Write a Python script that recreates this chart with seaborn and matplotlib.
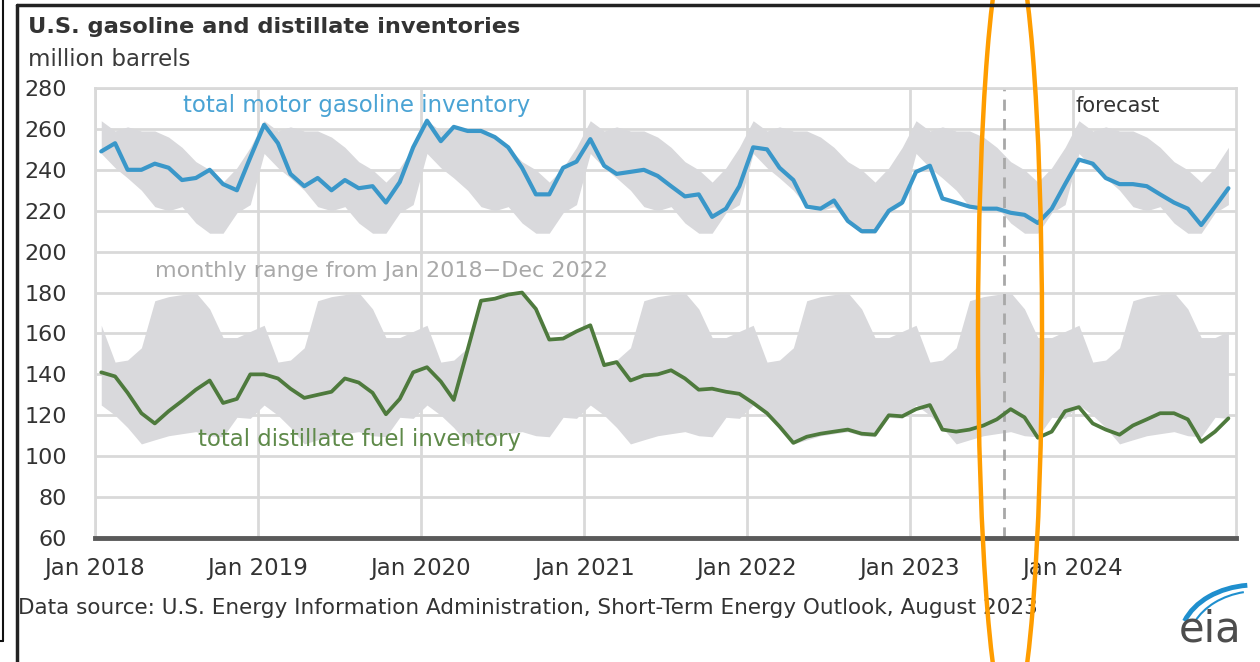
import numpy as np
import pandas as pd
import matplotlib
matplotlib.use("Agg")
import matplotlib.pyplot as plt
from matplotlib.patches import Ellipse, Arc
import seaborn as sns

# monthly values, Jan 2018 - Dec 2024 (million barrels)
gasoline = [
    249, 253, 240, 240, 243, 241, 235, 236, 240, 233, 230, 246,   # 2018
    262, 253, 238, 232, 236, 230, 235, 231, 232, 224, 234, 251,   # 2019
    264, 254, 261, 259, 259, 256, 251, 241, 228, 228, 241, 244,   # 2020
    255, 242, 238, 239, 240, 237, 232, 227, 228, 217, 221, 232,   # 2021
    251, 250, 241, 235, 222, 221, 225, 215, 210, 210, 220, 224,   # 2022
    239, 242, 226, 224, 222, 221, 221, 219, 218, 214, 221, 233,   # 2023
    245, 243, 236, 233, 233, 232, 228, 224, 221, 213, 222, 231,   # 2024
]
distillate = [
    141, 139, 131, 121, 116, 122, 127, 132.5, 137, 126, 128, 140,
    140, 138, 133, 128.5, 130, 131.5, 138, 136, 131, 120.5, 128, 141,
    143.5, 136.5, 127.5, 152, 176, 177, 179, 180, 172, 157, 157.5, 161,
    164, 144.5, 146, 137, 139.5, 140, 142, 138, 132.5, 133, 131.5, 130.5,
    126, 121, 114.5, 106.5, 109.5, 111, 112, 113, 111, 110.5, 120, 119.5,
    123, 125, 113, 112, 113, 115, 118, 123, 119, 109, 112, 122,
    124, 116, 113, 110.5, 115, 118, 121, 121, 118, 107, 112, 118.5,
]
# monthly range Jan 2018 - Dec 2022, by calendar month
gas_hi = [264, 259, 261, 259, 259, 256, 251, 244, 240, 234, 241, 251]
gas_lo = [248, 241, 236, 230, 222, 220, 222, 214, 209, 209, 219, 223]
dist_hi = [164, 146, 147, 153, 176, 178, 179, 180, 172, 158, 158, 161]
dist_lo = [125, 120, 114, 106, 108, 110, 111, 112, 110, 109.5, 119, 118.5]

tick_years = ['2018', '2019', '2020', '2021', '2022', '2023', '2024']
tick_labels = ['Jan ' + y for y in tick_years]

months = pd.date_range('2018-01-01', periods=len(gasoline), freq='MS') + pd.Timedelta(days=14)
df = pd.DataFrame({'date': months, 'gasoline': gasoline, 'distillate': distillate})
n_years = len(gasoline) // 12
df['gas_hi'] = np.tile(gas_hi, n_years)
df['gas_lo'] = np.tile(gas_lo, n_years)
df['dist_hi'] = np.tile(dist_hi, n_years)
df['dist_lo'] = np.tile(dist_lo, n_years)

sns.set_style('white')
plt.rcParams['font.family'] = ['DejaVu Sans']

W, H = 1260, 662
fig = plt.figure(figsize=(W / 100, H / 100), dpi=100)
ax = fig.add_axes([95 / W, 1 - 538 / H, (1236 - 95) / W, (538 - 88) / H])

band = '#d9d9dc'
grid = '#d9d9d9'
ax.fill_between(df['date'], df['gas_lo'], df['gas_hi'], color=band, lw=0, zorder=1)
ax.fill_between(df['date'], df['dist_lo'], df['dist_hi'], color=band, lw=0, zorder=1)

sns.lineplot(data=df, x='date', y='gasoline', color='#3a97c9', lw=3, ax=ax, zorder=3)
sns.lineplot(data=df, x='date', y='distillate', color='#4e7a3d', lw=2.7, ax=ax, zorder=3)

ax.axvline(pd.Timestamp('2023-08-01'), color='#a8a8a8', lw=2, ls=(0, (4, 3)), zorder=2)

ax.set_xlim(pd.Timestamp('2018-01-01'), pd.Timestamp('2025-01-01'))
ax.set_ylim(60, 280)
ax.set_yticks(range(60, 281, 20))
ax.set_xticks(pd.to_datetime([y + '-01-01' for y in tick_years]))
ax.set_xticklabels(tick_labels)
ax.set_xlabel('')
ax.set_ylabel('')

ax.set_axisbelow(True)
ax.grid(True, color=grid, lw=2)
for s in ['top', 'right', 'left']:
    ax.spines[s].set_color(grid)
    ax.spines[s].set_linewidth(2)
ax.spines['bottom'].set_color('#5a5a5a')
ax.spines['bottom'].set_linewidth(3.5)
ax.spines['bottom'].set_zorder(4)

ax.tick_params(axis='y', length=0, pad=20, labelsize=16, labelcolor='#333333')
ax.tick_params(axis='x', length=7, width=2, color='#5a5a5a', pad=7,
               labelsize=16.5, labelcolor='#333333')

ax.text(0.2296, 0.962, 'total motor gasoline inventory', transform=ax.transAxes,
        ha='center', va='center', fontsize=16.5, color='#4aa3d4')
ax.text(0.2507, 0.593, 'monthly range from Jan 2018\u2212Dec 2022', transform=ax.transAxes,
        ha='center', va='center', fontsize=16, color='#a9a9a9')
ax.text(0.2314, 0.218, 'total distillate fuel inventory', transform=ax.transAxes,
        ha='center', va='center', fontsize=16.5, color='#5f8a4a')
ax.text(0.859, 0.96, 'forecast', transform=ax.transAxes,
        ha='left', va='center', fontsize=15, color='#333333')

fig.text(28 / W, 1 - 27 / H, 'U.S. gasoline and distillate inventories', ha='left', va='center',
         fontsize=16.2, fontweight='bold', color='#333333')
fig.text(28 / W, 1 - 60 / H, 'million barrels', ha='left', va='center',
         fontsize=16.5, color='#3a3a3a')
fig.text(18 / W, 1 - 608 / H,
         'Data source: U.S. Energy Information Administration, Short-Term Energy Outlook, August 2023',
         ha='left', va='center', fontsize=15.5, color='#333333')

# overlay in pixel coordinates: screenshot frame, logo, highlight ellipse
ov = fig.add_axes([0, 0, 1, 1], zorder=10)
ov.set_xlim(0, W)
ov.set_ylim(H, 0)
ov.axis('off')
ov.patch.set_alpha(0)
ov.plot([17, 17], [5, H], color='#222222', lw=2.5)
ov.plot([17, W], [5, 5], color='#222222', lw=2.5)
ov.plot([3, 3], [0, 641], color='#111111', lw=1.5)
ov.plot([0, 3], [641, 641], color='#111111', lw=1.5)

ov.text(1210, 630, 'eia', ha='center', va='center', fontsize=30, color='#4d4d4d')
# y axis is inverted here, so angles are mirrored
ov.add_patch(Arc((1255, 640), 150, 110, theta1=195, theta2=262, color='#1f8fce', lw=3.5))
ov.add_patch(Arc((1258, 645), 140, 108, theta1=200, theta2=255, color='#1f8fce', lw=1.5))

ov.add_patch(Ellipse((1010, 331), 64, 788, fill=False, edgecolor='#ff9d00', lw=3.2))

fig.savefig('out.png', dpi=100, facecolor='white')
